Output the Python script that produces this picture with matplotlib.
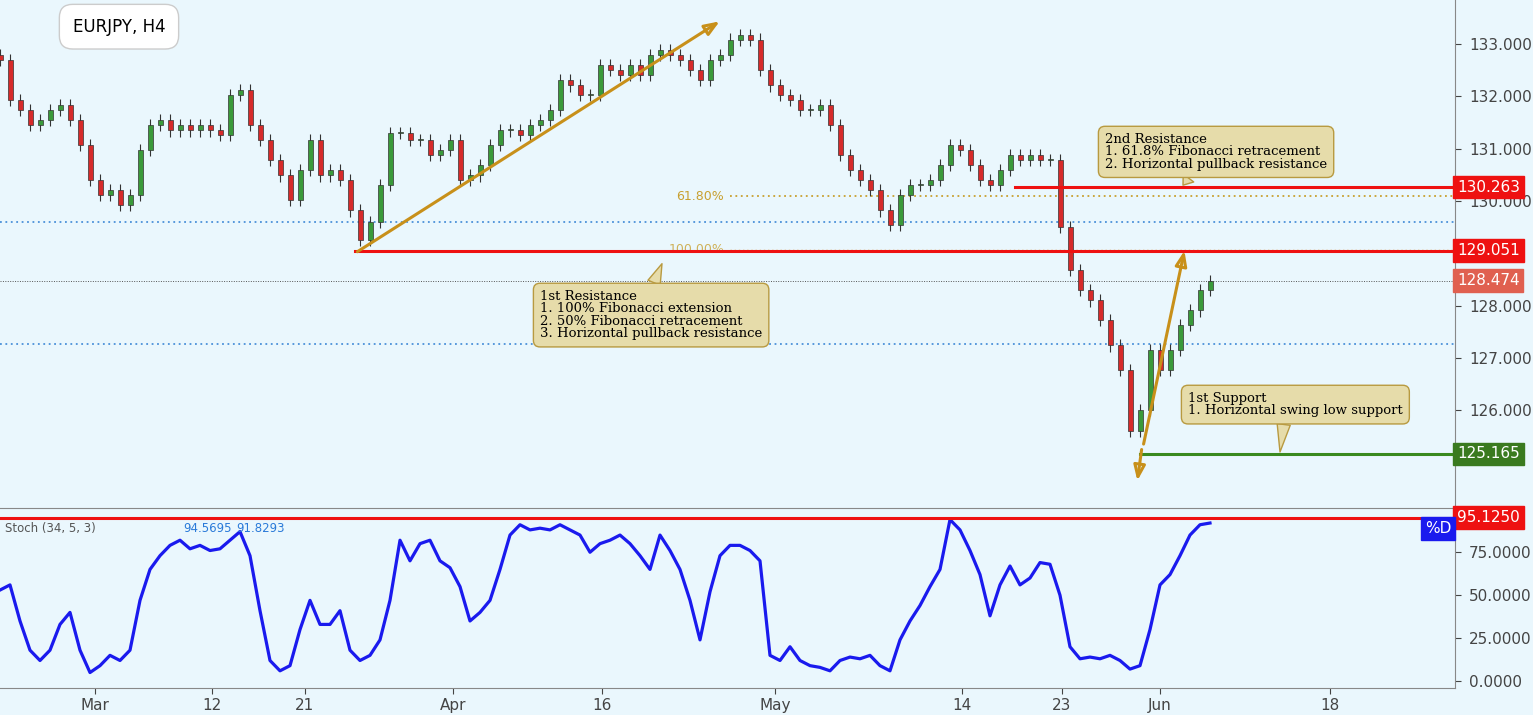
import numpy as np
import matplotlib
matplotlib.use("Agg")
import matplotlib.pyplot as plt
from matplotlib.patches import Rectangle

closes = [132.69,131.93,131.74,131.45,131.55,131.74,131.83,131.55,131.07,130.40,
          130.11,130.21,129.92,130.11,130.97,131.45,131.55,131.35,131.45,131.35,
          131.45,131.35,131.26,132.02,132.12,131.45,131.16,130.78,130.49,130.02,
          130.59,131.16,130.49,130.59,130.40,129.82,129.25,129.60,130.30,131.30,
          131.30,131.16,131.16,130.88,130.97,131.16,130.40,130.49,130.69,131.07,
          131.35,131.35,131.26,131.45,131.55,131.74,132.31,132.21,132.02,132.02,
          132.60,132.50,132.41,132.60,132.41,132.79,132.88,132.79,132.69,132.50,
          132.31,132.69,132.79,133.08,133.17,133.08,132.50,132.21,132.02,131.93,
          131.74,131.74,131.83,131.45,130.88,130.59,130.40,130.21,129.82,129.54,
          130.11,130.30,130.30,130.40,130.69,131.07,130.97,130.69,130.40,130.30,
          130.59,130.88,130.78,130.88,130.78,130.78,129.50,128.68,128.30,128.10,
          127.72,127.24,126.77,125.60,126.00,127.15,126.77,127.15,127.63,127.91,
          128.30,128.47]
stoch = [53,56,35,18,12,18,33,40,18,5,9,15,12,18,47,65,73,79,82,77,
         79,76,77,82,87,73,41,12,6,9,30,47,33,33,41,18,12,15,24,47,
         82,70,80,82,70,66,55,35,40,47,65,85,91,88,89,88,91,88,85,75,
         80,82,85,80,73,65,85,76,65,47,24,52,73,79,79,76,70,15,12,20,
         12,9,8,6,12,14,13,15,9,6,24,35,44,55,65,94,88,76,62,38,
         56,67,56,60,69,68,50,20,13,14,13,15,12,7,9,30,56,62,73,85,91,92]
tick_labels = ["Mar","12","21","Apr","16","May","14","23","Jun","18"]
tick_pos = [95,212,305,453,602,775,962,1062,1160,1330]
price_ticks = [126.0, 127.0, 128.0, 130.0, 131.0, 132.0, 133.0]
levels = {"r2":130.263,"r1":129.051,"last":128.474,"s1":125.165}
stoch_level = 95.125

BG = "#eaf7fd"
STEP = 10
fig = plt.figure(figsize=(15.33, 7.15), dpi=100)
fig.patch.set_facecolor(BG)
ax = fig.add_axes([0, 1-508/715, 1455/1533, 508/715])
ax2 = fig.add_axes([0, 1-688/715, 1455/1533, (688-511)/715])
for a in (ax, ax2):
    a.set_facecolor(BG)
    a.set_xlim(0, 1455)
    for s in ("left", "top"):
        a.spines[s].set_visible(False)
    a.spines["right"].set_color("#888888")
    a.spines["bottom"].set_color("#888888")
    a.yaxis.tick_right()
    a.tick_params(axis="y", labelsize=11, colors="#444444", length=4, pad=6)
ax.set_ylim(124.13, 133.84)
ax.set_xticks([])
ax.set_yticks(price_ticks)
ax.set_yticklabels([f"{v:.3f}" for v in price_ticks])

n = len(closes)
xs = np.arange(n) * STEP
prev = closes[0] + 0.1
for x, c in zip(xs, closes):
    o = prev
    col = "#3a9a3a" if c >= o else "#d62a2a"
    ax.vlines(x, min(o, c) - 0.12, max(o, c) + 0.12, color="#333333", lw=0.8, zorder=3)
    ax.add_patch(Rectangle((x-2.5, min(o, c)), 5, max(abs(c-o), 0.02),
                           facecolor=col, edgecolor="#333333", lw=0.5, zorder=4))
    prev = c

ax.axhline(129.6, color="#4a90d9", ls=(0, (1, 2)), lw=1.3)
ax.axhline(127.26, color="#4a90d9", ls=(0, (1, 2)), lw=1.3)
ax.axhline(levels["last"], color="#555555", ls=(0, (1, 1.5)), lw=0.7)
ax.plot([355, 1455], [levels["r1"]]*2, color="#ee1111", lw=2.2, zorder=5)
ax.plot([1015, 1455], [levels["r2"]]*2, color="#ee1111", lw=2.2, zorder=5)
ax.plot([1140, 1455], [levels["s1"]]*2, color="#3a8a1f", lw=2.2, zorder=5)
ax.plot([730, 1455], [130.09]*2, color="#c8a030", ls=(0, (1, 2)), lw=1.3)
ax.plot([730, 1455], [129.07]*2, color="#c8a030", ls=(0, (1, 2)), lw=1.0)
ax.text(700, 130.09, "61.80%", color="#c8a030", fontsize=9, ha="center", va="center")
ax.text(697, 129.07, "100.00%", color="#c8a030", fontsize=9, ha="center", va="center", alpha=0.8)

def arrow(x0, y0, x1, y1):
    ax.annotate("", xy=(x1, y1), xytext=(x0, y0),
                arrowprops=dict(arrowstyle="-|>,head_length=0.9,head_width=0.35", color="#c8901a", lw=2.2, fill=False), zorder=6)
arrow(355, 129.0, 722, 133.46)
arrow(1143, 125.3, 1185, 129.1)
arrow(1142, 125.3, 1137, 124.6)

def plabel(a, y, text, fc):
    a.text(1457, y, text, transform=a.transData, fontsize=11, color="white", ha="left", va="center",
           bbox=dict(boxstyle="square,pad=0.25", fc=fc, ec=fc), clip_on=False, zorder=10)
plabel(ax, levels["r2"], "130.263", "#ee1111")
plabel(ax, levels["r1"], "129.051", "#ee1111")
plabel(ax, levels["last"], "128.474", "#e06050")
plabel(ax, levels["s1"], "125.165", "#3a7a1f")

def note(x, y, lines, tipx, tipy, relpos):
    ax.annotate("\n".join(lines), xy=(tipx, tipy), xytext=(x, y), fontsize=9.5, family="DejaVu Serif",
                va="top", ha="left", linespacing=0.95,
                bbox=dict(boxstyle="round,pad=0.5", fc="#e6dcaa", ec="#b89a40"),
                arrowprops=dict(arrowstyle="wedge,tail_width=1.0,shrink_factor=0.5", fc="#e6dcaa", ec="#b89a40",
                                relpos=relpos, shrinkA=0, shrinkB=0), zorder=7)
note(540, 128.3, ["1st Resistance", "1. 100% Fibonacci extension", "2. 50% Fibonacci retracement", "3. Horizontal pullback resistance"], 662, 128.8, (0.5, 1))
note(1105, 131.3, ["2nd Resistance", "1. 61.8% Fibonacci retracement", "2. Horizontal pullback resistance"], 1183, 130.3, (0.4, 0))
note(1188, 126.35, ["1st Support", "1. Horizontal swing low support"], 1280, 125.2, (0.45, 0))

ax.text(119, 133.33, "EURJPY, H4", fontsize=12, ha="center", va="center",
        bbox=dict(boxstyle="round,pad=0.8", fc="white", ec="#cccccc"), zorder=8)

ax2.set_ylim(-4, 99)
ax2.plot(np.arange(len(stoch)) * STEP, stoch, color="#1a1aee", lw=2.3)
ax2.axhline(stoch_level, color="#ee1111", lw=2.2)
ax2.set_yticks([0, 25, 50, 75])
ax2.set_yticklabels(["0.0000", "25.0000", "50.0000", "75.0000"])
plabel(ax2, stoch_level, "95.1250", "#ee1111")
ax2.text(1438, 89, "%D", fontsize=11, color="white", ha="center", va="center",
         bbox=dict(boxstyle="square,pad=0.25", fc="#1a1aee", ec="#1a1aee"), zorder=10)
ax2.text(5, 89, "Stoch (34, 5, 3)", fontsize=8.5, color="#555555", va="center")
ax2.text(183, 89, "94.5695", fontsize=8.5, color="#2a7ad9", va="center")
ax2.text(236, 89, "91.8293", fontsize=8.5, color="#2a7ad9", va="center")
ax2.set_xticks(tick_pos)
ax2.set_xticklabels(tick_labels)
ax2.tick_params(axis="x", labelsize=11, colors="#444444", length=4)
fig.savefig("out.png", dpi=100, facecolor=BG)
